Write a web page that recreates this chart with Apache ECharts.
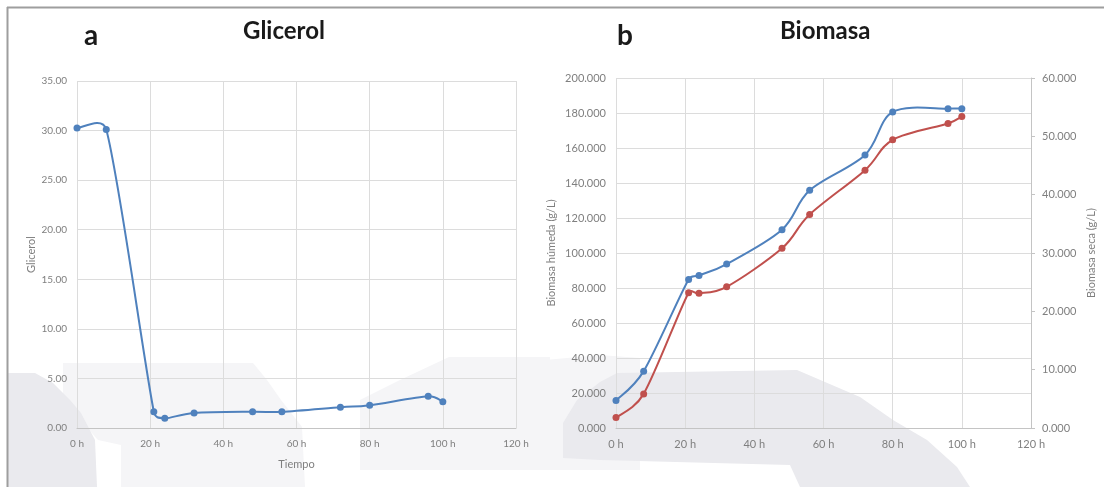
<!DOCTYPE html>
<html>
<head>
<meta charset="utf-8">
<script src="https://cdn.jsdelivr.net/npm/echarts@6/dist/echarts.min.js"></script>
<style>
html,body{margin:0;padding:0;background:#fff;}
#c{width:1104px;height:487px;}
</style>
</head>
<body>
<div id="c"></div>
<script>
// ---- data ----
const hours = [0, 8, 21, 24, 32, 48, 56, 72, 80, 96, 100];
const glicerol = [30.25, 30.1, 1.65, 0.98, 1.52, 1.65, 1.63, 2.09, 2.3, 3.2, 2.66];
const biomasaHumeda = [15.7, 32.5, 84.9, 87.2, 93.7, 113.3, 135.8, 156.0, 180.6, 182.5, 182.5];
const biomasaSeca = [1.78, 5.85, 23.2, 23.1, 24.2, 30.8, 36.6, 44.2, 49.4, 52.2, 53.4];
const titles = ['Glicerol', 'Biomasa'];
const panelLetters = ['a', 'b'];
const axisNames = { tiempo: 'Tiempo', glicerol: 'Glicerol', humeda: 'Biomasa húmeda (g/L)', seca: 'Biomasa seca (g/L)' };

const pairs = (xs, ys) => xs.map((x, i) => [x, ys[i]]);

const BLUE = '#4f81bd', RED = '#c0504d';
const TICK = '#7f7f7f', GRID = '#dcdcdc', AXIS = '#c4c4c4';
const FONT = 'Lato, "Open Sans", sans-serif';

// Excel-like smoothed line: each segment is a cubic Bezier whose control
// points come from neighbouring points (pixel positions given by the axes).
function smoothSeries(xs, ys, color, xi, yi) {
  const n = xs.length;
  return {
    type: 'custom', xAxisIndex: xi, yAxisIndex: yi, z: 2, silent: true,
    data: pairs(xs, ys),
    renderItem: function (params, api) {
      const i = params.dataIndex;
      if (i >= n - 1) return null;
      const P = j => { j = Math.max(0, Math.min(n - 1, j)); return api.coord([xs[j], ys[j]]); };
      const p0 = P(i - 1), p1 = P(i), p2 = P(i + 1), p3 = P(i + 2);
      const seg = Math.hypot(p2[0] - p1[0], p2[1] - p1[1]);
      const arm = (a, b) => {
        let dx = (b[0] - a[0]) / 6, dy = (b[1] - a[1]) / 6;
        const L = Math.hypot(dx, dy), lim = seg * 0.5;
        if (L > lim && L > 0) { dx *= lim / L; dy *= lim / L; }
        return [dx, dy];
      };
      const a1 = arm(p0, p2), a2 = arm(p1, p3);
      return {
        type: 'bezierCurve',
        shape: {
          x1: p1[0], y1: p1[1], x2: p2[0], y2: p2[1],
          cpx1: p1[0] + a1[0], cpy1: p1[1] + a1[1],
          cpx2: p2[0] - a2[0], cpy2: p2[1] - a2[1]
        },
        style: { stroke: color, lineWidth: 2, fill: null, lineCap: 'round' }
      };
    }
  };
}
function markers(xs, ys, color, xi, yi) {
  return {
    type: 'scatter', xAxisIndex: xi, yAxisIndex: yi, z: 3, silent: true,
    data: pairs(xs, ys), symbol: 'circle', symbolSize: 7,
    itemStyle: { color: color, opacity: 1 }
  };
}

const chart = echarts.init(document.getElementById('c'), null, { renderer: 'canvas' });

const wmDark = '#eaeaee', wmLight = '#f5f5f7';

const option = {
  animation: false,
  backgroundColor: '#ffffff',
  textStyle: { fontFamily: FONT },
  graphic: [
    // faint background watermark
    { type: 'polygon', z: -10, silent: true, shape: { points: [[63,363],[253,363],[267,380],[281,400],[302,427],[305,487],[121,487],[121,445],[98,440],[63,400]] }, style: { fill: wmLight } },
    { type: 'polygon', z: -10, silent: true, shape: { points: [[360,400],[400,380],[449,357],[550,357],[550,470],[360,470]] }, style: { fill: wmLight } },
    { type: 'polygon', z: -9, silent: true, shape: { points: [[8,373],[35,373],[53,383],[70,400],[81,413],[95,440],[97,487],[8,487]] }, style: { fill: wmDark } },
    { type: 'polygon', z: -10, silent: true, shape: { points: [[545,360],[600,355],[640,358],[640,470],[545,470]] }, style: { fill: wmLight } },
    { type: 'polygon', z: -9, silent: true, shape: { points: [[563,458],[563,423],[577,400],[600,382],[617,373],[797,370],[860,397],[893,420],[927,440],[957,467],[970,487],[800,487],[790,465],[600,460]] }, style: { fill: wmDark } },
    // panel border
    { type: 'line', z: 100, silent: true, shape: { x1: 7, y1: 7.5, x2: 1104, y2: 7.5 }, style: { stroke: '#9e9e9e', lineWidth: 2 } },
    { type: 'line', z: 100, silent: true, shape: { x1: 7.5, y1: 7, x2: 7.5, y2: 487 }, style: { stroke: '#9e9e9e', lineWidth: 2 } },
    // titles
    { type: 'text', z: 100, left: 84, top: 22, style: { text: panelLetters[0], font: 'bold 28px ' + FONT, fill: '#1a1a1a' } },
    { type: 'text', z: 100, left: 243, top: 19, style: { text: titles[0], font: 'bold 24px ' + FONT, fill: '#1a1a1a' } },
    { type: 'text', z: 100, left: 617, top: 22, style: { text: panelLetters[1], font: 'bold 28px ' + FONT, fill: '#1a1a1a' } },
    { type: 'text', z: 100, left: 780, top: 19, style: { text: titles[1], font: 'bold 24px ' + FONT, fill: '#1a1a1a' } }
  ],
  grid: [
    { left: 77, right: 1104 - 516, top: 81, bottom: 487 - 428, containLabel: false },
    { left: 616, right: 1104 - 1031, top: 78, bottom: 487 - 428, containLabel: false }
  ],
  xAxis: [
    {
      type: 'value', gridIndex: 0, min: 0, max: 120, interval: 20,
      name: axisNames.tiempo, nameLocation: 'middle', nameGap: 31,
      nameTextStyle: { color: TICK, fontSize: 11, fontFamily: FONT },
      axisLine: { show: true, lineStyle: { color: AXIS, width: 1 } },
      axisTick: { show: false },
      axisLabel: { color: TICK, fontSize: 10, margin: 11, formatter: v => v + ' h', fontFamily: FONT },
      splitLine: { show: true, lineStyle: { color: GRID, width: 1 } }
    },
    {
      type: 'value', gridIndex: 1, min: 0, max: 120, interval: 20,
      axisLine: { show: true, lineStyle: { color: AXIS, width: 1 } },
      axisTick: { show: false },
      axisLabel: { color: TICK, fontSize: 11, margin: 11, formatter: v => v + ' h', fontFamily: FONT },
      splitLine: { show: true, lineStyle: { color: GRID, width: 1 } }
    }
  ],
  yAxis: [
    {
      type: 'value', gridIndex: 0, min: 0, max: 35, interval: 5,
      name: axisNames.glicerol, nameLocation: 'middle', nameGap: 40,
      nameTextStyle: { color: TICK, fontSize: 11, fontFamily: FONT },
      axisLine: { show: false }, axisTick: { show: false },
      axisLabel: { color: TICK, fontSize: 10, margin: 10, formatter: v => v.toFixed(2), fontFamily: FONT },
      splitLine: { show: true, lineStyle: { color: GRID, width: 1 } }
    },
    {
      type: 'value', gridIndex: 1, min: 0, max: 200, interval: 20, position: 'left',
      name: axisNames.humeda, nameLocation: 'middle', nameGap: 59,
      nameTextStyle: { color: TICK, fontSize: 11, fontFamily: FONT },
      axisLine: { show: false }, axisTick: { show: false },
      axisLabel: { color: TICK, fontSize: 11, margin: 10, formatter: v => v.toFixed(3), fontFamily: FONT },
      splitLine: { show: true, lineStyle: { color: GRID, width: 1 } }
    },
    {
      type: 'value', gridIndex: 1, min: 0, max: 60, interval: 10, position: 'right',
      name: axisNames.seca, nameLocation: 'middle', nameGap: 55,
      nameTextStyle: { color: TICK, fontSize: 11, fontFamily: FONT },
      axisLine: { show: true, lineStyle: { color: AXIS, width: 1 } },
      axisTick: { show: true, length: 4, inside: false, lineStyle: { color: AXIS } },
      axisLabel: { color: TICK, fontSize: 11, margin: 11, formatter: v => v.toFixed(3), fontFamily: FONT },
      splitLine: { show: false }
    }
  ],
  series: [
    smoothSeries(hours, glicerol, BLUE, 0, 0),
    markers(hours, glicerol, BLUE, 0, 0),
    smoothSeries(hours, biomasaHumeda, BLUE, 1, 1),
    markers(hours, biomasaHumeda, BLUE, 1, 1),
    smoothSeries(hours, biomasaSeca, RED, 1, 2),
    markers(hours, biomasaSeca, RED, 1, 2)
  ]
};
chart.setOption(option);
</script>
</body>
</html>
